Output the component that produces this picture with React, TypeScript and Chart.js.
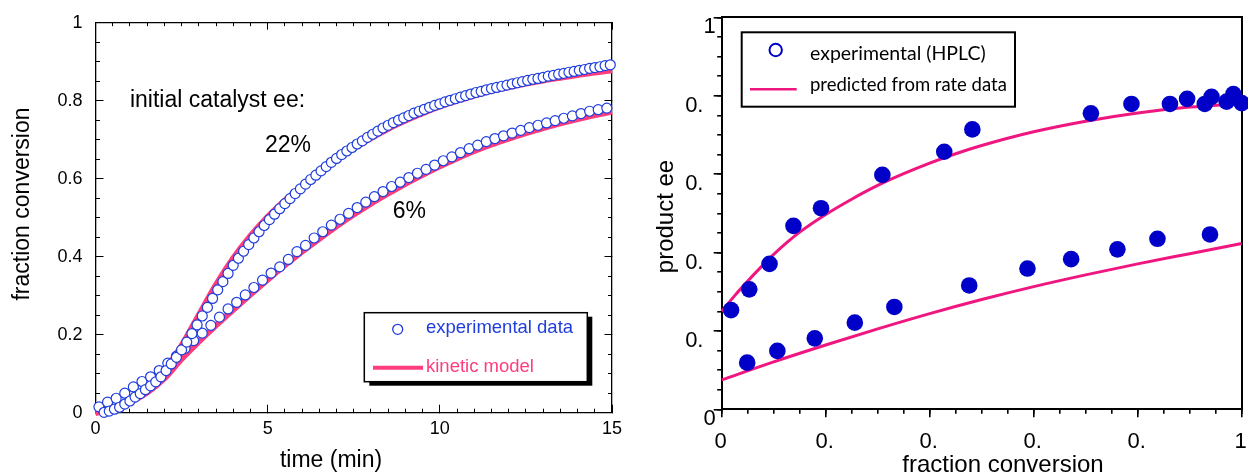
import React, { useEffect, useRef } from 'react';
import { Chart, registerables } from 'chart.js';

Chart.register(...registerables);

// ================= Left panel data (conversion vs time) =================
const time22 = [
  0.25, 0.40, 0.55, 0.70, 0.85, 1.00, 1.15, 1.30, 1.45, 1.60, 1.75, 1.90, 2.05, 2.20, 2.35, 2.50, 2.65, 2.80, 2.95, 3.10,
  3.25, 3.40, 3.55, 3.70, 3.85, 4.00, 4.15, 4.30, 4.45, 4.60, 4.75, 4.90, 5.05, 5.20, 5.35, 5.50, 5.65, 5.80, 5.95, 6.10,
  6.25, 6.40, 6.55, 6.70, 6.85, 7.00, 7.15, 7.30, 7.45, 7.60, 7.75, 7.90, 8.05, 8.20, 8.35, 8.50, 8.65, 8.80, 8.95, 9.10,
  9.25, 9.40, 9.55, 9.70, 9.85, 10.00, 10.15, 10.30, 10.45, 10.60, 10.75, 10.90, 11.05, 11.20, 11.35, 11.50, 11.65, 11.80,
  11.95, 12.10, 12.25, 12.40, 12.55, 12.70, 12.85, 13.00, 13.15, 13.30, 13.45, 13.60, 13.75, 13.90, 14.05, 14.20, 14.35,
  14.50, 14.65, 14.80, 14.95,
];
const conv22 = [
  0.001, 0.004, 0.009, 0.014, 0.022, 0.030, 0.040, 0.049, 0.059, 0.069, 0.079, 0.092, 0.108, 0.125, 0.142, 0.161, 0.181, 0.203, 0.225, 0.248,
  0.270, 0.293, 0.315, 0.336, 0.357, 0.378, 0.396, 0.414, 0.431, 0.448, 0.464, 0.480, 0.495, 0.509, 0.523, 0.536, 0.549, 0.562, 0.574, 0.586,
  0.598, 0.609, 0.620, 0.631, 0.642, 0.652, 0.662, 0.671, 0.680, 0.689, 0.697, 0.706, 0.714, 0.722, 0.730, 0.737, 0.744, 0.750, 0.756, 0.762,
  0.768, 0.773, 0.778, 0.783, 0.788, 0.792, 0.797, 0.801, 0.805, 0.809, 0.813, 0.817, 0.821, 0.824, 0.828, 0.831, 0.834, 0.837,
  0.840, 0.843, 0.846, 0.849, 0.852, 0.855, 0.857, 0.860, 0.863, 0.865, 0.868, 0.870, 0.873, 0.875, 0.878, 0.880, 0.883,
  0.885, 0.887, 0.890, 0.892,
];
const time6 = [
  0.10, 0.35, 0.60, 0.85, 1.10, 1.35, 1.60, 1.85, 2.10, 2.35, 2.60, 2.85, 3.10, 3.35, 3.60, 3.85, 4.10, 4.35, 4.60, 4.85,
  5.10, 5.35, 5.60, 5.85, 6.10, 6.35, 6.60, 6.85, 7.10, 7.35, 7.60, 7.85, 8.10, 8.35, 8.60, 8.85, 9.10, 9.35, 9.60, 9.85,
  10.10, 10.35, 10.60, 10.85, 11.10, 11.35, 11.60, 11.85, 12.10, 12.35, 12.60, 12.85, 13.10, 13.35, 13.60, 13.85, 14.10, 14.35, 14.60, 14.85,
];
const conv6 = [
  0.015, 0.027, 0.037, 0.050, 0.066, 0.080, 0.092, 0.108, 0.127, 0.145, 0.165, 0.185, 0.204, 0.224, 0.245, 0.266, 0.283, 0.302, 0.321, 0.340,
  0.358, 0.374, 0.393, 0.413, 0.429, 0.448, 0.464, 0.481, 0.496, 0.511, 0.526, 0.540, 0.554, 0.567, 0.580, 0.591, 0.603, 0.614, 0.624, 0.635,
  0.646, 0.656, 0.667, 0.677, 0.686, 0.695, 0.703, 0.710, 0.717, 0.724, 0.731, 0.737, 0.743, 0.749, 0.755, 0.761, 0.767, 0.773, 0.777, 0.781,
];
const modelTime = [0, 0.5, 1, 1.5, 2, 2.5, 3, 3.5, 4, 4.5, 5, 5.5, 6, 6.5, 7, 7.5, 8, 8.5, 9, 9.5, 10, 10.5, 11, 11.5, 12, 12.5, 13, 13.5, 14, 14.5, 15];
const model22 = [
  0.000, 0.006, 0.026, 0.060, 0.108, 0.172, 0.250, 0.328, 0.396, 0.453, 0.502, 0.544, 0.582, 0.617, 0.649, 0.678,
  0.704, 0.728, 0.749, 0.768, 0.785, 0.800, 0.813, 0.825, 0.835, 0.844, 0.852, 0.859, 0.866, 0.872, 0.878,
];
const model6 = [
  0.000, 0.010, 0.027, 0.052, 0.088, 0.138, 0.182, 0.224, 0.264, 0.303, 0.341, 0.378, 0.413, 0.446, 0.478, 0.508,
  0.536, 0.562, 0.587, 0.610, 0.632, 0.652, 0.671, 0.688, 0.703, 0.717, 0.730, 0.742, 0.753, 0.763, 0.772,
];
const leftXTickValues = [0, 5, 10, 15];
const leftXTickLabels = ['0', '5', '10', '15'];
const leftYTickValues = [0, 0.2, 0.4, 0.6, 0.8, 1];
const leftYTickLabels = ['0', '0.2', '0.4', '0.6', '0.8', '1'];

// ================= Right panel data (product ee vs conversion) =================
const hplcHighX = [0.018, 0.053, 0.092, 0.138, 0.191, 0.309, 0.428, 0.482, 0.710, 0.788, 0.862, 0.895, 0.929, 0.942, 0.971, 0.984, 1.0];
const hplcHighY = [0.253, 0.306, 0.371, 0.468, 0.513, 0.598, 0.657, 0.714, 0.755, 0.779, 0.779, 0.792, 0.779, 0.797, 0.785, 0.804, 0.781];
const hplcLowX = [0.049, 0.107, 0.179, 0.256, 0.332, 0.476, 0.588, 0.672, 0.761, 0.838, 0.939];
const hplcLowY = [0.119, 0.149, 0.181, 0.221, 0.261, 0.316, 0.359, 0.383, 0.408, 0.435, 0.446];
const predHighX = [0, 0.025, 0.05, 0.075, 0.1, 0.125, 0.15, 0.2, 0.25, 0.3, 0.35, 0.4, 0.45, 0.5, 0.6, 0.7, 0.8, 0.9, 1.0];
const predHighY = [0.250, 0.290, 0.327, 0.362, 0.395, 0.425, 0.452, 0.497, 0.536, 0.571, 0.601, 0.628, 0.652, 0.673, 0.708, 0.735, 0.756, 0.771, 0.780];
const predLowX = [0, 0.1, 0.2, 0.3, 0.4, 0.5, 0.6, 0.7, 0.8, 0.9, 1.0];
const predLowY = [0.075, 0.121, 0.164, 0.205, 0.244, 0.280, 0.313, 0.343, 0.371, 0.397, 0.423];
const rightTickValues = [0, 0.2, 0.4, 0.6, 0.8, 1];
const rightXTickLabels = ['0', '0.', '0.', '0.', '0.', '1'];
const rightYTickLabels = ['0', '0.  ', '0.  ', '0.  ', '0.  ', '1'];

// ================= styles =================
const SANS = '"Liberation Sans", Arial, Helvetica, sans-serif';
const LEFT_BLUE = '#1f3ddc';
const LEFT_PINK = '#ff3c7c';
const RIGHT_BLUE = '#0000c8';
const RIGHT_PINK = '#f0167f';

const zip = (xs: number[], ys: number[]) => xs.map((x, i) => ({ x, y: ys[i] }));

type AxisOpt = {
  pos: 'left' | 'right' | 'top' | 'bottom';
  min: number; max: number; step: number;
  tl: number; size: number; weight: number;
  values?: number[]; labels?: string[];
  fontSize?: number; pad?: number; lo?: number;
  border: boolean; bw: number; tw: number; drawTicks?: boolean;
};

function makeAxis(o: AxisOpt) {
  const horiz = o.pos === 'top' || o.pos === 'bottom';
  return {
    type: 'linear',
    position: o.pos,
    axis: horiz ? 'x' : 'y',
    min: o.min,
    max: o.max,
    weight: o.weight,
    grid: {
      display: true,
      drawOnChartArea: false,
      drawTicks: o.drawTicks !== false,
      tickLength: o.tl,
      tickColor: '#000',
      tickWidth: o.tw,
      lineWidth: o.tw,
      color: '#000',
    },
    border: { display: o.border, color: '#000', width: o.bw },
    ticks: {
      display: !!o.labels,
      stepSize: o.step,
      autoSkip: false,
      maxRotation: 0,
      minRotation: 0,
      color: '#000',
      font: { family: SANS, size: o.fontSize || 18 },
      padding: o.pad || 0,
      labelOffset: o.lo || 0,
      callback: (v: number) => {
        if (!o.labels || !o.values) return '';
        const i = o.values.findIndex((t) => Math.abs(t - v) < 1e-6);
        return i >= 0 ? o.labels[i] : '';
      },
    },
    afterFit: (s: any) => {
      if (horiz) s.height = o.size;
      else s.width = o.size;
      // the plot frame is fixed by the layout padding; labels may overhang it
      s.paddingTop = 0;
      s.paddingBottom = 0;
      s.paddingLeft = 0;
      s.paddingRight = 0;
    },
  };
}

// ================= plugins (legend boxes, titles, annotations) =================
const leftNotes = [
  { text: 'initial catalyst ee:', t: 1.0, v: 0.785 },
  { text: '22%', t: 4.92, v: 0.669 },
  { text: '6%', t: 8.63, v: 0.498 },
];

const leftDecor = {
  id: 'leftDecor',
  afterDraw(chart: any) {
    const { ctx } = chart;
    const xs = chart.scales.x;
    const ys = chart.scales.y;
    ctx.save();
    ctx.fillStyle = '#000';
    ctx.textBaseline = 'alphabetic';
    ctx.textAlign = 'left';
    ctx.font = `23px ${SANS}`;
    leftNotes.forEach((n) => ctx.fillText(n.text, xs.getPixelForValue(n.t), ys.getPixelForValue(n.v)));

    // axis titles
    ctx.textAlign = 'center';
    ctx.fillText('time (min)', 331, 466.5);
    ctx.save();
    ctx.translate(29.3, 204);
    ctx.rotate(-Math.PI / 2);
    ctx.fillText('fraction conversion', 0, 0);
    ctx.restore();

    // legend with drop shadow
    const L = { x: 364.3, y: 312.7, w: 223, h: 69 };
    ctx.fillStyle = '#000';
    ctx.fillRect(L.x + 5, L.y + 4, L.w, L.h);
    ctx.fillStyle = '#fff';
    ctx.fillRect(L.x, L.y, L.w, L.h);
    ctx.strokeStyle = '#000';
    ctx.lineWidth = 1.5;
    ctx.strokeRect(L.x, L.y, L.w, L.h);

    ctx.beginPath();
    ctx.arc(L.x + 33.4, L.y + 16.6, 5, 0, Math.PI * 2);
    ctx.fillStyle = '#fff';
    ctx.fill();
    ctx.strokeStyle = LEFT_BLUE;
    ctx.lineWidth = 1.3;
    ctx.stroke();

    ctx.textAlign = 'left';
    ctx.font = `18.5px ${SANS}`;
    ctx.fillStyle = LEFT_BLUE;
    ctx.fillText('experimental data', L.x + 61.7, L.y + 20);

    ctx.beginPath();
    ctx.moveTo(L.x + 8.7, L.y + 55);
    ctx.lineTo(L.x + 58.7, L.y + 55);
    ctx.strokeStyle = LEFT_PINK;
    ctx.lineWidth = 4;
    ctx.stroke();
    ctx.fillStyle = LEFT_PINK;
    ctx.fillText('kinetic model', L.x + 61.7, L.y + 59.3);
    ctx.restore();
  },
};

const rightDecor = {
  id: 'rightDecor',
  afterDraw(chart: any) {
    const { ctx } = chart;
    ctx.save();
    ctx.fillStyle = '#000';
    ctx.textBaseline = 'alphabetic';
    ctx.font = `24px ${SANS}`;
    ctx.textAlign = 'center';
    ctx.fillText('fraction conversion', 373, 472);
    ctx.save();
    ctx.translate(43, 216.5);
    ctx.rotate(-Math.PI / 2);
    ctx.fillText('product ee', 0, 0);
    ctx.restore();

    const L = { x: 111.7, y: 32.3, w: 273.3, h: 74.4 };
    ctx.fillStyle = '#fff';
    ctx.fillRect(L.x, L.y, L.w, L.h);
    ctx.strokeStyle = '#000';
    ctx.lineWidth = 2;
    ctx.strokeRect(L.x, L.y, L.w, L.h);

    ctx.beginPath();
    ctx.arc(L.x + 34, L.y + 17.7, 6.2, 0, Math.PI * 2);
    ctx.strokeStyle = RIGHT_BLUE;
    ctx.lineWidth = 2;
    ctx.stroke();

    ctx.textAlign = 'left';
    ctx.fillStyle = '#000';
    ctx.font = '19.5px Lato, "Open Sans", sans-serif';
    ctx.fillText('experimental (HPLC)', L.x + 68.3, L.y + 27.7);

    ctx.beginPath();
    ctx.moveTo(L.x + 8.3, L.y + 57);
    ctx.lineTo(L.x + 55, L.y + 57);
    ctx.strokeStyle = RIGHT_PINK;
    ctx.lineWidth = 2.5;
    ctx.stroke();
    ctx.font = '18.5px Lato, "Open Sans", sans-serif';
    ctx.fillText('predicted from rate data', L.x + 68.3, L.y + 58.4);
    ctx.restore();
  },
};

// ================= chart configs =================
function leftConfig(): any {
  const bw = 1.3;
  const tw = 1;
  return {
    type: 'scatter',
    data: {
      datasets: [
        {
          label: 'experimental data (22%)', data: zip(time22, conv22), order: 0,
          pointRadius: 5, pointBorderWidth: 1.2, pointBorderColor: LEFT_BLUE, pointBackgroundColor: '#fff', showLine: false, clip: false,
        },
        {
          label: 'experimental data (6%)', data: zip(time6, conv6), order: 0,
          pointRadius: 5, pointBorderWidth: 1.2, pointBorderColor: LEFT_BLUE, pointBackgroundColor: '#fff', showLine: false, clip: false,
        },
        {
          label: 'kinetic model (22%)', data: zip(modelTime, model22), order: 1, showLine: true, pointRadius: 0,
          borderColor: LEFT_PINK, borderWidth: 6, tension: 0.4, cubicInterpolationMode: 'monotone', clip: false,
        },
        {
          label: 'kinetic model (6%)', data: zip(modelTime, model6), order: 1, showLine: true, pointRadius: 0,
          borderColor: LEFT_PINK, borderWidth: 6, tension: 0.4, cubicInterpolationMode: 'monotone', clip: false,
        },
      ],
    },
    options: {
      responsive: false,
      animation: false,
      events: [],
      layout: { autoPadding: false, padding: { left: 0, top: 22.7, right: 18, bottom: 0 } },
      plugins: { legend: { display: false }, tooltip: { enabled: false }, title: { display: false } },
      scales: {
        x: makeAxis({ pos: 'bottom', min: 0, max: 15, step: 5, tl: -8, size: 63.3, weight: 1, values: leftXTickValues, labels: leftXTickLabels, fontSize: 18, pad: 14, border: true, bw, tw }),
        xm: makeAxis({ pos: 'bottom', min: 0, max: 15, step: 0.5, tl: -4, size: 0, weight: 0, border: false, bw, tw }),
        xt: makeAxis({ pos: 'top', min: 0, max: 15, step: 5, tl: -7, size: 0, weight: 1, border: true, bw, tw }),
        xtm: makeAxis({ pos: 'top', min: 0, max: 15, step: 0.5, tl: -3.5, size: 0, weight: 0, border: false, bw, tw }),
        y: makeAxis({ pos: 'left', min: 0, max: 1, step: 0.2, tl: -8, size: 95.5, weight: 1, values: leftYTickValues, labels: leftYTickLabels, fontSize: 18, pad: 21, border: true, bw, tw }),
        ym: makeAxis({ pos: 'left', min: 0, max: 1, step: 0.05, tl: -4.5, size: 0, weight: 0, border: false, bw, tw }),
        yr: makeAxis({ pos: 'right', min: 0, max: 1, step: 0.2, tl: -7.5, size: 0, weight: 1, border: true, bw, tw }),
        yrm: makeAxis({ pos: 'right', min: 0, max: 1, step: 0.05, tl: -4, size: 0, weight: 0, border: false, bw, tw }),
      },
    },
    plugins: [leftDecor],
  };
}

function rightConfig(): any {
  const bw = 2;
  const tw = 1.6;
  return {
    type: 'scatter',
    data: {
      datasets: [
        {
          label: 'experimental (HPLC) high', data: zip(hplcHighX, hplcHighY), order: 0,
          pointRadius: 8.3, pointBorderWidth: 0, pointBackgroundColor: RIGHT_BLUE, showLine: false, clip: false,
        },
        {
          label: 'experimental (HPLC) low', data: zip(hplcLowX, hplcLowY), order: 0,
          pointRadius: 8.3, pointBorderWidth: 0, pointBackgroundColor: RIGHT_BLUE, showLine: false, clip: false,
        },
        {
          label: 'predicted from rate data high', data: zip(predHighX, predHighY), order: 1, showLine: true, pointRadius: 0,
          borderColor: RIGHT_PINK, borderWidth: 3, tension: 0.4, cubicInterpolationMode: 'monotone', clip: false,
        },
        {
          label: 'predicted from rate data low', data: zip(predLowX, predLowY), order: 1, showLine: true, pointRadius: 0,
          borderColor: RIGHT_PINK, borderWidth: 3, tension: 0.4, cubicInterpolationMode: 'monotone', clip: false,
        },
      ],
    },
    options: {
      responsive: false,
      animation: false,
      events: [],
      layout: { autoPadding: false, padding: { left: 0, top: 17.3, right: 6.3, bottom: 0 } },
      plugins: { legend: { display: false }, tooltip: { enabled: false }, title: { display: false } },
      scales: {
        x: makeAxis({ pos: 'bottom', min: 0, max: 1, step: 0.2, tl: 8, size: 66.7, weight: 1, values: rightTickValues, labels: rightXTickLabels, fontSize: 22, pad: 11.3, lo: -1, border: true, bw, tw }),
        xm: makeAxis({ pos: 'bottom', min: 0, max: 1, step: 0.05, tl: 4.5, size: 0, weight: 0, border: false, bw, tw }),
        xt: makeAxis({ pos: 'top', min: 0, max: 1, step: 0.2, tl: 0, size: 0, weight: 0, border: true, bw, tw, drawTicks: false }),
        y: makeAxis({ pos: 'left', min: 0, max: 1, step: 0.2, tl: 8, size: 91.7, weight: 1, values: rightTickValues, labels: rightYTickLabels, fontSize: 22, pad: -2, lo: 10, border: true, bw, tw }),
        ym: makeAxis({ pos: 'left', min: 0, max: 1, step: 0.05, tl: 4.5, size: 0, weight: 0, border: false, bw, tw }),
        yr: makeAxis({ pos: 'right', min: 0, max: 1, step: 0.2, tl: 0, size: 0, weight: 0, border: true, bw, tw, drawTicks: false }),
      },
    },
    plugins: [rightDecor],
  };
}

export default function App() {
  const leftRef = useRef<HTMLCanvasElement>(null);
  const rightRef = useRef<HTMLCanvasElement>(null);

  useEffect(() => {
    const c1 = new Chart(leftRef.current as HTMLCanvasElement, leftConfig());
    const c2 = new Chart(rightRef.current as HTMLCanvasElement, rightConfig());
    return () => {
      c1.destroy();
      c2.destroy();
    };
  }, []);

  return (
    <div style={{ position: 'fixed', left: 0, top: 0, width: 1248, height: 476, background: '#fff', overflow: 'hidden' }}>
      <canvas ref={leftRef} width={630} height={476} style={{ position: 'absolute', left: 0, top: 0, width: 630, height: 476 }} />
      <canvas ref={rightRef} width={618} height={476} style={{ position: 'absolute', left: 630, top: 0, width: 618, height: 476 }} />
    </div>
  );
}
